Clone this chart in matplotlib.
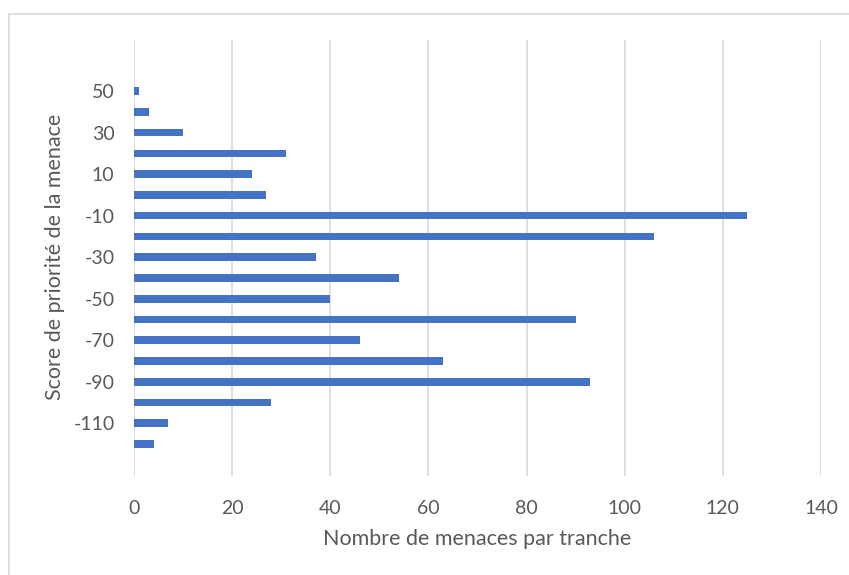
import matplotlib.pyplot as plt
from matplotlib.patches import Rectangle

# tranches de score (bas -> haut) et nombre de menaces
scores = [-120, -110, -100, -90, -80, -70, -60, -50, -40, -30, -20, -10, 0, 10, 20, 30, 40, 50]
menaces = [4, 7, 28, 93, 63, 46, 90, 40, 54, 37, 106, 125, 27, 24, 31, 10, 3, 1]
y_ticks = [-110, -90, -70, -50, -30, -10, 10, 30, 50]
x_ticks = [0, 20, 40, 60, 80, 100, 120, 140]

plt.rcParams['font.family'] = ['Lato', 'DejaVu Sans']
plt.rcParams['axes.unicode_minus'] = False
gris = '#595959'
W, H = 849, 575

fig = plt.figure(figsize=(W / 100, H / 100), dpi=100)
# cadre du graphique (coupé à droite et en bas)
fig.patches.append(Rectangle((9 / W, -0.1), 1.2, 1 - 14 / H + 0.1, transform=fig.transFigure,
                             fill=False, edgecolor='#d9d9d9', linewidth=1.2))

ax = fig.add_axes([134 / W, 1 - 476 / H, (821 - 134) / W, (476 - 40) / H])
ax.barh(scores, menaces, height=3.7, color='#4472C4', zorder=3)

ax.set_xlim(0, 140)
ax.set_ylim(-135.4, 74.6)
ax.set_xticks(x_ticks)
ax.set_yticks(y_ticks)
ax.grid(axis='x', color='#d9d9d9', linewidth=1.2, zorder=0)
for s in ax.spines.values():
    s.set_visible(False)
ax.tick_params(length=0, labelsize=14, colors=gris)
ax.tick_params(axis='x', pad=17)
ax.tick_params(axis='y', pad=14)

# titres des axes placés à la main
fig.text(477 / W, 1 - 539 / H, 'Nombre de menaces par tranche', fontsize=15.5, color=gris,
         ha='center', va='center')
fig.text(55 / W, 1 - 257 / H, 'Score de priorité de la menace', fontsize=15.5, color=gris,
         ha='center', va='center', rotation=90)

fig.savefig('out.png', dpi=100)
